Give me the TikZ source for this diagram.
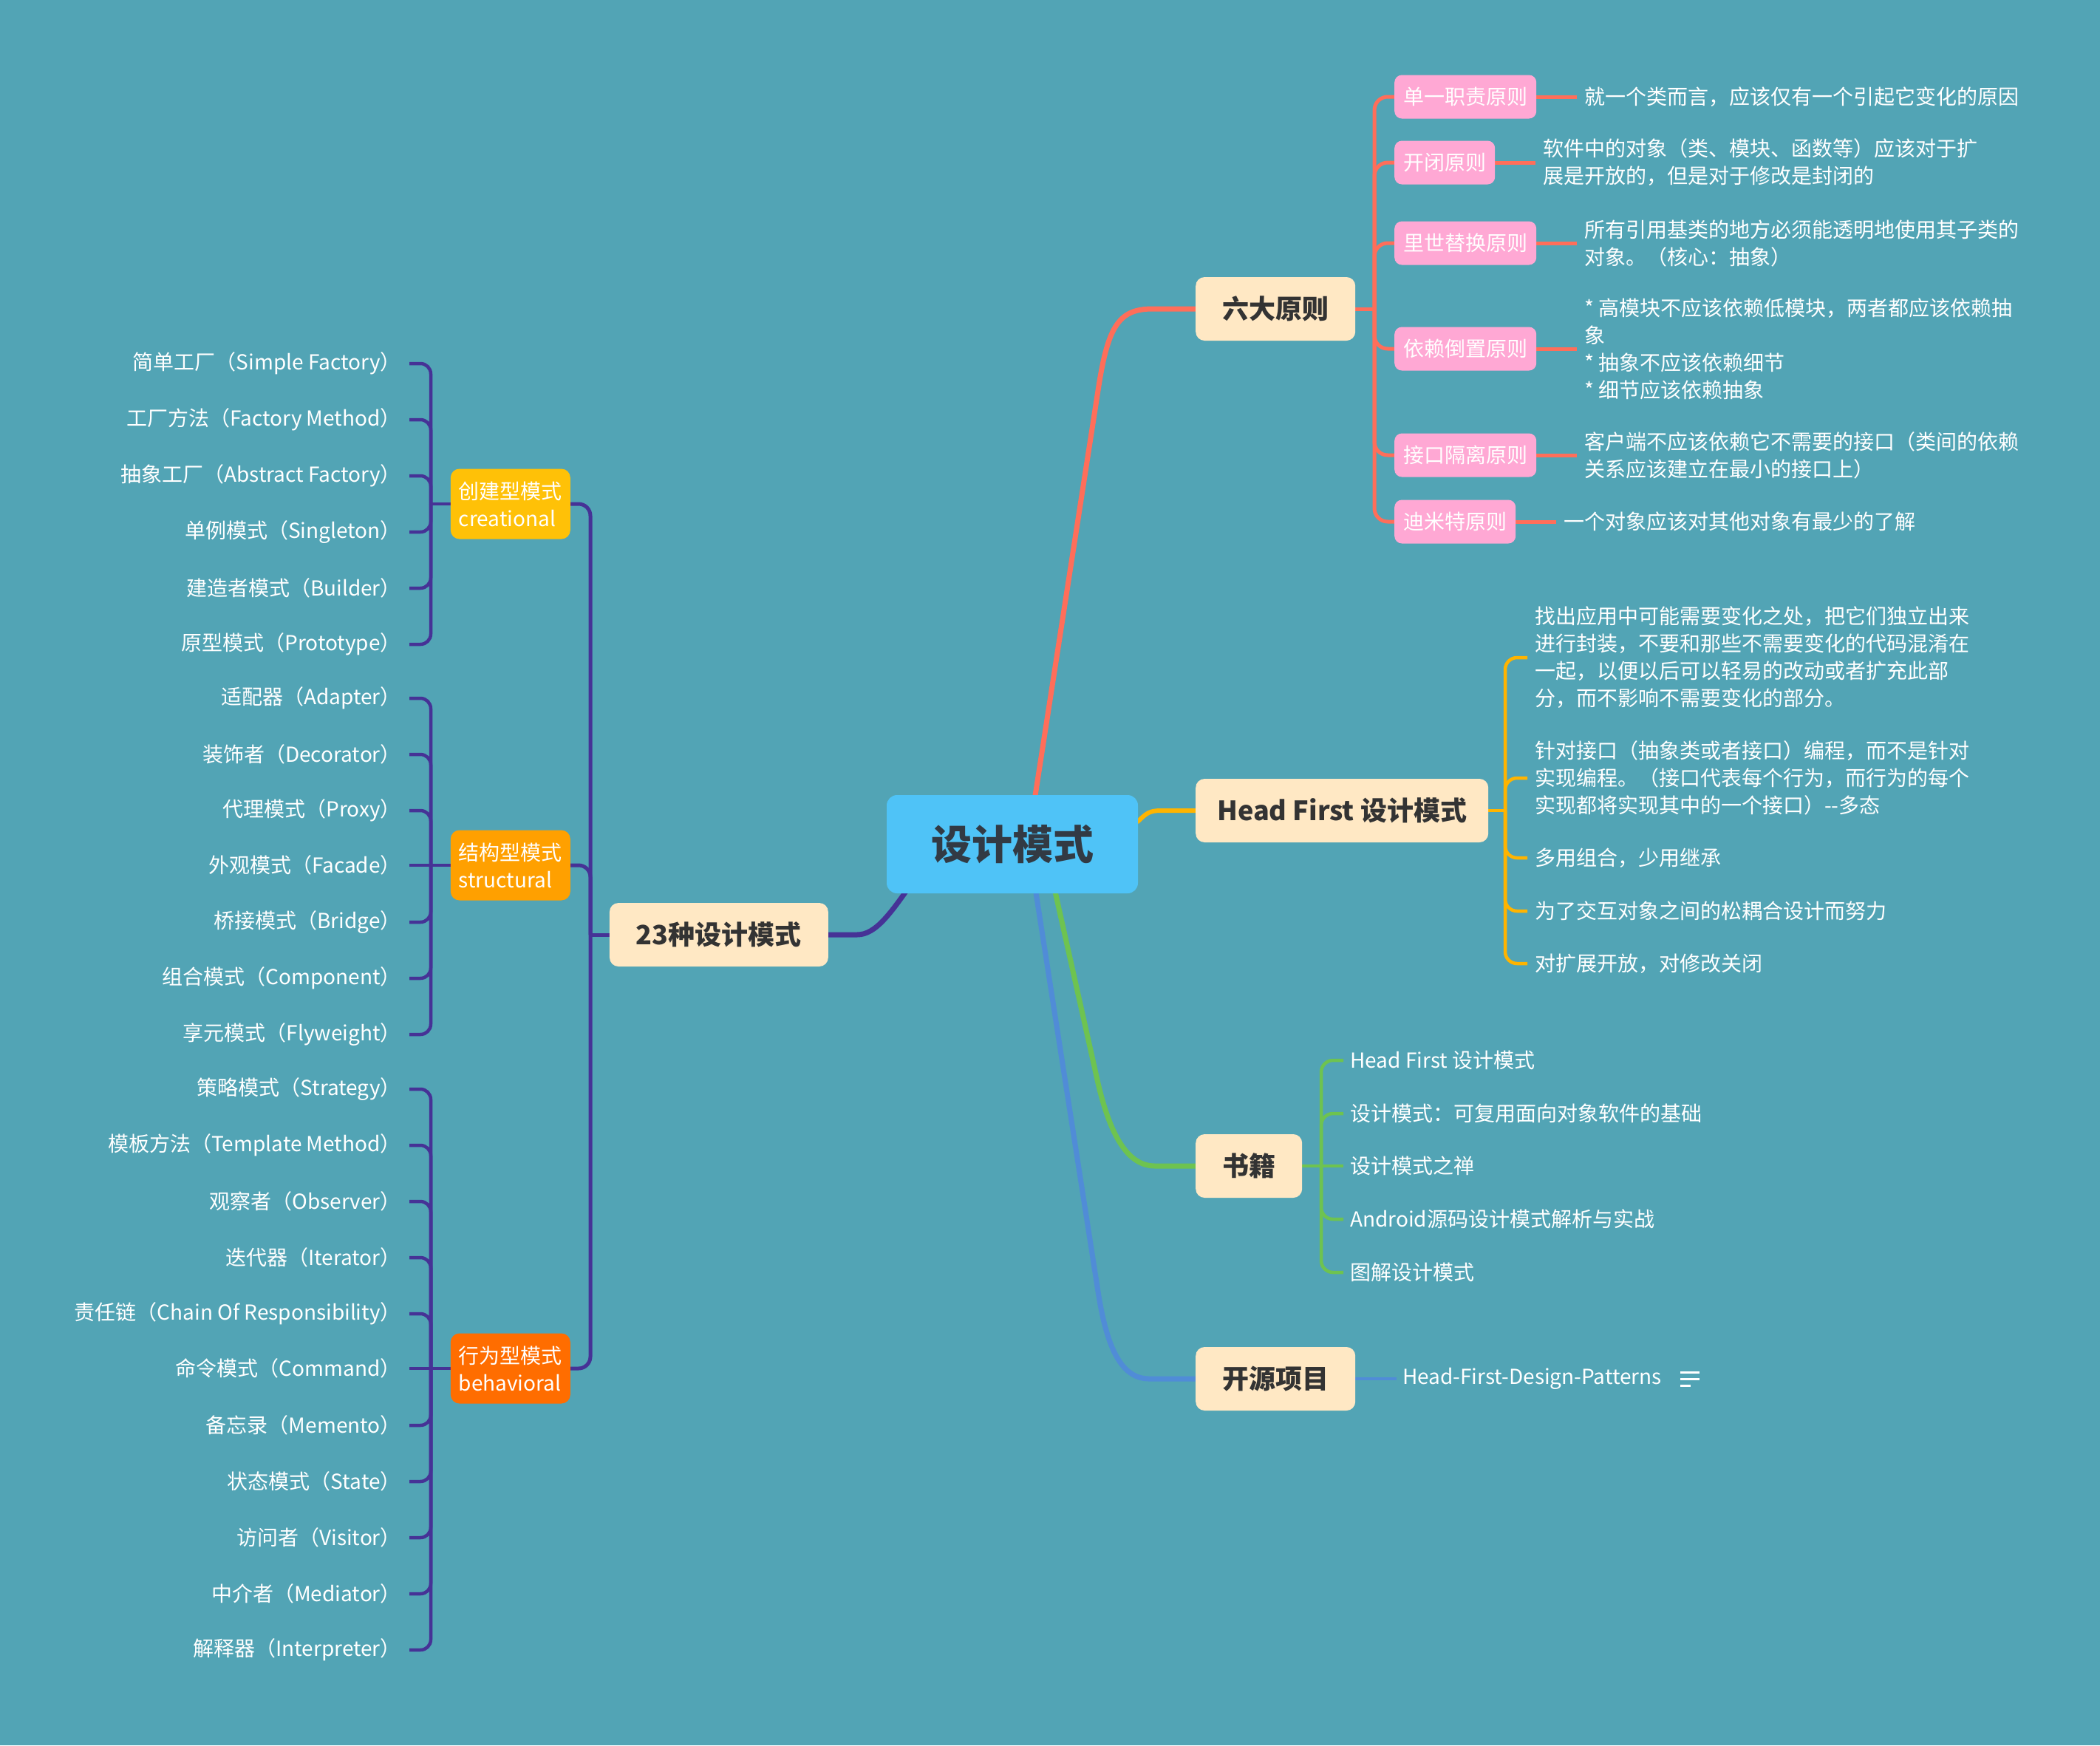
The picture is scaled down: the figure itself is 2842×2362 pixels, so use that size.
\documentclass[tikz,border=0pt]{standalone}
\usepackage{fontspec}
\setmainfont{Noto Sans CJK SC}
\usetikzlibrary{positioning}
\definecolor{bgc}{RGB}{82,164,181}
\definecolor{rootc}{RGB}{79,195,247}
\definecolor{peach}{RGB}{255,232,196}
\definecolor{pinkc}{RGB}{255,168,212}
\definecolor{redc}{RGB}{255,110,90}
\definecolor{yelc}{RGB}{255,180,0}
\definecolor{grnc}{RGB}{110,195,80}
\definecolor{bluc}{RGB}{80,140,215}
\definecolor{purc}{RGB}{70,50,150}
\definecolor{creac}{RGB}{255,193,7}
\definecolor{strc}{RGB}{255,160,0}
\definecolor{behc}{RGB}{255,109,0}
\definecolor{darktxt}{RGB}{50,58,68}
\definecolor{maintxt}{RGB}{51,51,51}
\newcommand\txtfont{\fontsize{28}{37}\selectfont}
\pgfdeclarelayer{back}
\pgfdeclarelayer{lines}
\pgfsetlayers{back,lines,main}
\begin{document}
\begin{tikzpicture}[x=1pt,y=-1pt,
 rootbox/.style={fill=rootc, rounded corners=14pt, minimum width=340pt, minimum height=133pt, inner sep=0pt, text=darktxt, font=\fontsize{55}{60}\selectfont\bfseries},
 mainbox/.style={fill=peach, rounded corners=12pt, minimum height=86pt, inner xsep=36pt, inner ysep=0pt, text=maintxt, font=\fontsize{36}{40}\selectfont\bfseries},
 pinkbox/.style={fill=pinkc, rounded corners=10pt, minimum height=59pt, inner xsep=12pt, inner ysep=0pt, text=white, font=\txtfont, anchor=west},
 catbox/.style={rounded corners=12pt, minimum height=95pt, inner xsep=11pt, inner ysep=0pt, align=left, text=white, font=\txtfont, anchor=east},
 leafnode/.style={text=white, font=\txtfont, inner xsep=11pt, inner ysep=3pt, anchor=east},
 notenode/.style={text=white, font=\txtfont, align=left, inner xsep=10pt, inner ysep=3pt, anchor=west},
 mainline/.style={line width=7pt},
 redl/.style={draw=redc, line width=5pt, rounded corners=18pt},
 yell/.style={draw=yelc, line width=4.5pt, rounded corners=16pt},
 grnl/.style={draw=grnc, line width=4.5pt, rounded corners=16pt},
 blul/.style={draw=bluc, line width=4.5pt},
 purl/.style={draw=purc, line width=4.5pt, rounded corners=14pt},
 purm/.style={draw=purc, line width=5pt, rounded corners=16pt}
]
\useasboundingbox (0,0) rectangle (2842,2362);
\begin{pgfonlayer}{back}
\fill[bgc] (0,0) rectangle (2842,2362);
\end{pgfonlayer}

% main nodes
\node[rootbox] (root) at (1370,1142.5) {设计模式};
\node[mainbox, anchor=west] (six) at (1618,418) {六大原则};
\node[mainbox, anchor=west, inner xsep=29pt] (hf) at (1618,1097) {Head First 设计模式};
\node[mainbox, anchor=west] (books) at (1618,1578) {书籍};
\node[mainbox, anchor=west] (os) at (1618,1866) {开源项目};
\node[mainbox, anchor=east] (p23) at (1121,1265) {23种设计模式};

% main connectors
\begin{pgfonlayer}{lines}
\draw[redc, mainline] ([xshift=28pt,yshift=-20pt]root.north) -- (1487,522) .. controls (1500,440) and (1515,418) .. (1560,418) -- (six.west);
\draw[yelc, line width=6pt] ([xshift=-10pt,yshift=31pt]root.east) -- ([yshift=31pt]root.east) .. controls (1552,1100) and (1556,1097) .. (1572,1097) -- (hf.west);
\draw[grnc, mainline] ([xshift=54pt,yshift=20pt]root.south) -- (1486,1466) .. controls (1502,1534) and (1525,1578) .. (1563,1578) -- (books.west);
\draw[bluc, mainline] ([xshift=29pt,yshift=20pt]root.south) -- (1486,1748) .. controls (1497,1818) and (1515,1866) .. (1555,1866) -- (os.west);
\draw[purc, mainline] ([xshift=-132pt,yshift=20pt]root.south) .. controls (1205,1237) and (1185,1265) .. (1160,1265) -- (p23.east);
\end{pgfonlayer}

% six principles
\node[pinkbox] (s1) at (1887,131) {单一职责原则};
\node[pinkbox] (s2) at (1887,220) {开闭原则};
\node[pinkbox] (s3) at (1887,329) {里世替换原则};
\node[pinkbox] (s4) at (1887,472) {依赖倒置原则};
\node[pinkbox] (s5) at (1887,616) {接口隔离原则};
\node[pinkbox] (s6) at (1887,706) {迪米特原则};
\node[notenode, right=55pt of s1] (t1) {就一个类而言，应该仅有一个引起它变化的原因};
\node[notenode, right=55pt of s2] (t2) {软件中的对象（类、模块、函数等）应该对于扩\\展是开放的，但是对于修改是封闭的};
\node[notenode, right=55pt of s3] (t3) {所有引用基类的地方必须能透明地使用其子类的\\对象。（核心：抽象）};
\node[notenode, right=55pt of s4] (t4) {* 高模块不应该依赖低模块，两者都应该依赖抽\\象\\* 抽象不应该依赖细节\\* 细节应该依赖抽象};
\node[notenode, right=55pt of s5] (t5) {客户端不应该依赖它不需要的接口（类间的依赖\\关系应该建立在最小的接口上）};
\node[notenode, right=55pt of s6] (t6) {一个对象应该对其他对象有最少的了解};
\begin{pgfonlayer}{lines}
\draw[redl] (six.east) -- (1860,418);
\foreach \i in {1,...,6}{
  \draw[redl] (1860,418) |- (s\i.west);
  \draw[redl] (s\i.east) -- (t\i.west);
}
\end{pgfonlayer}

% head first
\node[notenode] (h1) at (2067,890) {找出应用中可能需要变化之处，把它们独立出来\\进行封装，不要和那些不需要变化的代码混淆在\\一起，以便以后可以轻易的改动或者扩充此部\\分，而不影响不需要变化的部分。};
\node[notenode] (h2) at (2067,1053) {针对接口（抽象类或者接口）编程，而不是针对\\实现编程。（接口代表每个行为，而行为的每个\\实现都将实现其中的一个接口）-{}-多态};
\node[notenode] (h3) at (2067,1161) {多用组合，少用继承};
\node[notenode] (h4) at (2067,1233) {为了交互对象之间的松耦合设计而努力};
\node[notenode] (h5) at (2067,1304) {对扩展开放，对修改关闭};
\begin{pgfonlayer}{lines}
\draw[yell] (hf.east) -- (2037,1097);
\foreach \i in {1,...,5}{
  \draw[yell] (2037,1097) |- (h\i.west);
}
\end{pgfonlayer}

% books
\node[notenode, inner xsep=9pt] (b1) at (1818,1435) {Head First 设计模式};
\node[notenode, inner xsep=9pt] (b2) at (1818,1507) {设计模式：可复用面向对象软件的基础};
\node[notenode, inner xsep=9pt] (b3) at (1818,1578) {设计模式之禅};
\node[notenode, inner xsep=9pt] (b4) at (1818,1650) {Android源码设计模式解析与实战};
\node[notenode, inner xsep=9pt] (b5) at (1818,1722) {图解设计模式};
\begin{pgfonlayer}{lines}
\draw[grnl] (books.east) -- (b3.west);
\foreach \i in {1,2,4,5}{
  \draw[grnl] (1788,1578) |- (b\i.west);
}
\end{pgfonlayer}

% open source
\node[notenode, inner xsep=8pt] (o1) at (1890,1866) {Head-First-Design-Patterns};
\begin{pgfonlayer}{lines}
\draw[blul] (os.east) -- (o1.west);
\end{pgfonlayer}
\draw[white, line width=3pt] ([xshift=17pt,yshift=9pt]o1.east) -- +(26,0);
\draw[white, line width=3pt] ([xshift=17pt]o1.east) -- +(26,0);
\draw[white, line width=3pt] ([xshift=17pt,yshift=-9pt]o1.east) -- +(14,0);

% categories
\node[catbox, fill=creac] (cre) at (772,682) {创建型模式\\creational};
\node[catbox, fill=strc] (str) at (772,1171) {结构型模式\\structural};
\node[catbox, fill=behc] (beh) at (772,1852) {行为型模式\\behavioral};
\begin{pgfonlayer}{lines}
\draw[purm] (p23.west) -- (799,1265);
\draw[purm] (799,1265) |- (cre.east);
\draw[purm] (799,1265) |- (str.east);
\draw[purm] (799,1265) |- (beh.east);
\draw[purl] (cre.west) -- (583,682);
\draw[purl] (str.west) -- (583,1171);
\draw[purl] (beh.west) -- (583,1852);
\end{pgfonlayer}

\foreach \yy/\lbl [count=\i] in {492/简单工厂（Simple Factory）,568/工厂方法（Factory Method）,644/抽象工厂（Abstract Factory）,720/单例模式（Singleton）,796/建造者模式（Builder）,872/原型模式（Prototype）}{
  \node[leafnode] (c\i) at (554,\yy) {\lbl};
  \begin{pgfonlayer}{lines}
  \draw[purl] (583,682) |- (c\i.east);
  \end{pgfonlayer}
}
\foreach \yy/\lbl [count=\i] in {945/适配器（Adapter）,1021/装饰者（Decorator）,1097/代理模式（Proxy）,1171/外观模式（Facade）,1248/桥接模式（Bridge）,1324/组合模式（Component）,1400/享元模式（Flyweight）}{
  \node[leafnode] (r\i) at (554,\yy) {\lbl};
  \begin{pgfonlayer}{lines}
  \ifnum\i=4
    \draw[purl] (583,1171) -- (r\i.east);
  \else
    \draw[purl] (583,1171) |- (r\i.east);
  \fi
  \end{pgfonlayer}
}
\foreach \yy/\lbl [count=\i] in {1474/策略模式（Strategy）,1550/模板方法（Template Method）,1626/观察者（Observer）,1702/迭代器（Iterator）,1778/责任链（Chain Of Responsibility）,1852/命令模式（Command）,1929/备忘录（Memento）,2005/状态模式（State）,2081/访问者（Visitor）,2157/中介者（Mediator）,2233/解释器（Interpreter）}{
  \node[leafnode] (v\i) at (554,\yy) {\lbl};
  \begin{pgfonlayer}{lines}
  \ifnum\i=6
    \draw[purl] (583,1852) -- (v\i.east);
  \else
    \draw[purl] (583,1852) |- (v\i.east);
  \fi
  \end{pgfonlayer}
}
\end{tikzpicture}
\end{document}
